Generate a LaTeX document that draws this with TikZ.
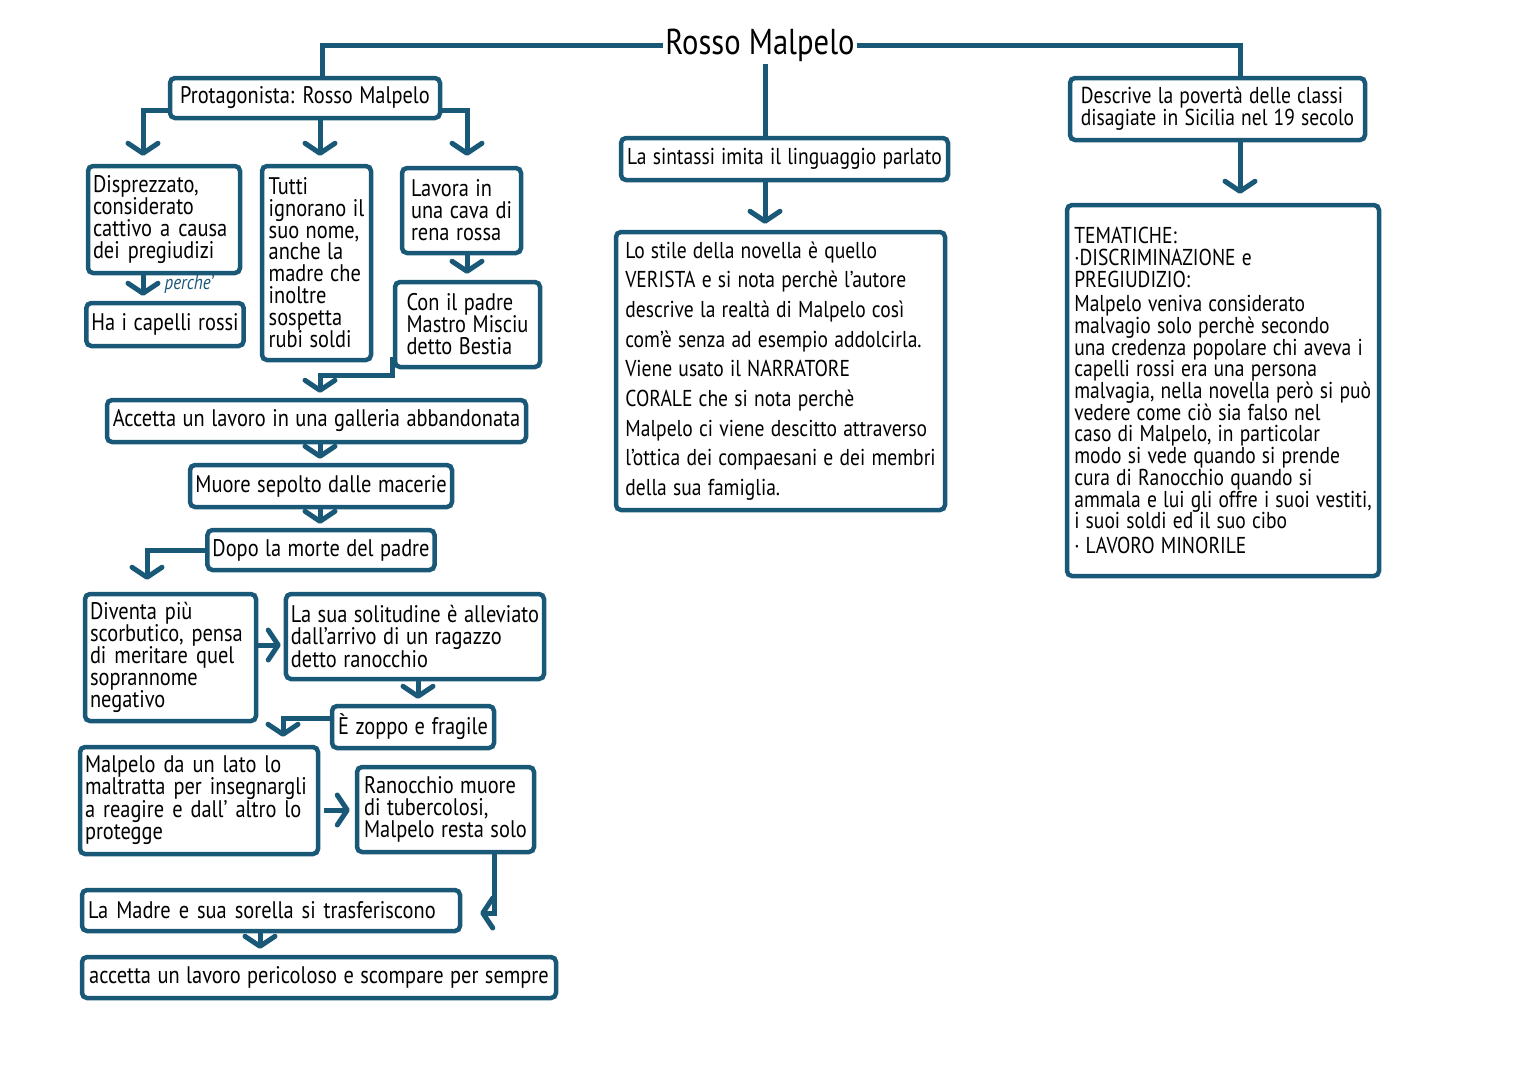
\documentclass[tikz,border=0pt]{standalone}
\usepackage{fontspec}
\setmainfont[FakeStretch=0.85]{PT Sans}
\usetikzlibrary{arrows.meta,calc}
\definecolor{mb}{RGB}{26,88,120}
\newcommand\bxfont[2]{\fontsize{#1}{#2}\selectfont\spaceskip=0.27em plus 1pt minus 1pt\relax}
\begin{document}
\begin{tikzpicture}[x=1pt,y=-1pt,
  box/.style={draw=mb, line width=4.5pt, rounded corners=5pt, fill=white, inner xsep=5pt, inner ysep=1pt, align=left, text=black},
  conn/.style={draw=mb, line width=5pt},
  arr/.style={draw=mb, line width=5pt, -{Straight Barb[length=10pt,width=30pt,round]}},
  ft/.style={font=\bxfont{24}{#1}},
  ft/.default=22,
  fs/.style={font=\bxfont{23}{#1}},
  fs/.default=22
]
\fill[white] (0,0) rectangle (1527,1080);
\useasboundingbox (0,0) rectangle (1527,1080);

% column coordinates
\coordinate (xl) at (322,0);
\coordinate (xr) at (1240,0);
\coordinate (xm) at (765,0);
\coordinate (xa) at (143,0);
\coordinate (xc) at (320,0);
\coordinate (xd) at (467,0);
\coordinate (xe) at (147,0);
\coordinate (xf) at (418,0);
\coordinate (xg) at (283,0);
\coordinate (xh) at (494,0);
\coordinate (xi) at (260,0);
\coordinate (ya) at (0,645);
\coordinate (yb) at (0,718);
\coordinate (yc) at (0,810);
\coordinate (yd) at (0,913);

\node[font=\fontsize{36}{36}\selectfont, inner sep=2pt] (title) at (760,45) {Rosso Malpelo};

\node[box, ft, minimum width=270pt, minimum height=40pt] (prot) at (305,98) {Protagonista: Rosso Malpelo};
\node[box, ft, minimum width=152pt, minimum height=107pt, text width=142pt] (disp) at (164,219.5) {Disprezzato,\\considerato\\cattivo a causa\\dei pregiudizi};
\node[box, ft, minimum width=154pt, minimum height=43pt] (capelli) at (165,324.5) {Ha i capelli rossi};
\node[box, ft=21.7, minimum width=109pt, minimum height=194pt] (tutti) at (316.5,263) {Tutti\\ignorano il\\suo nome,\\anche la\\madre che\\inoltre\\sospetta\\rubi soldi};
\node[box, ft, minimum width=119pt, minimum height=85pt] (lavora) at (461.5,210.5) {Lavora in\\una cava di\\rena rossa};
\node[box, ft, minimum width=145pt, minimum height=85pt] (padre) at (467.5,324.5) {Con il padre\\Mastro Misciu\\detto Bestia};
\node[box, ft, minimum width=419pt, minimum height=42pt] (accetta) at (316.5,421) {Accetta un lavoro in una galleria abbandonata};
\node[box, ft, minimum width=262pt, minimum height=42pt] (muore) at (321,486) {Muore sepolto dalle macerie};
\node[box, ft, minimum width=222pt, minimum height=40pt] (dopo) at (321,550) {Dopo la morte del padre};
\node[box, ft, minimum width=171pt, minimum height=127pt, text width=161pt] (diventa) at (170.5,657.5) {Diventa più\\scorbutico, pensa\\di meritare quel\\soprannome\\negativo};
\node[box, ft, minimum width=256pt, minimum height=85pt] (solit) at (415,636.5) {La sua solitudine è alleviato\\dall’arrivo di un ragazzo\\detto ranocchio};
\node[box, ft, minimum width=162pt, minimum height=42pt] (zoppo) at (413,727) {È zoppo e fragile};
\node[box, ft, minimum width=238pt, minimum height=107pt, text width=228pt] (maltratta) at (199,800.5) {Malpelo da un lato lo\\maltratta per insegnargli\\a reagire e dall’ altro lo\\protegge};
\node[box, ft, minimum width=177pt, minimum height=85pt] (ranmuore) at (445.5,809.5) {Ranocchio muore\\di tubercolosi,\\Malpelo resta solo};
\node[box, ft, minimum width=378pt, minimum height=41pt, text width=366pt] (madre) at (271,910.5) {La Madre e sua sorella si trasferiscono};
\node[box, ft, minimum width=474pt, minimum height=41pt] (pericoloso) at (319,977.5) {accetta un lavoro pericoloso e scompare per sempre};

\node[box, fs, inner xsep=3pt, minimum width=327pt, minimum height=42pt] (sintassi) at (784.5,159) {La sintassi imita il linguaggio parlato};
\node[box, fs=29.7, inner xsep=3pt, minimum width=329pt, minimum height=278pt] (stile) at (780.5,371) {Lo stile della novella è quello\\VERISTA e si nota perchè l'autore\\descrive la realtà di Malpelo così\\com'è senza ad esempio addolcirla.\\Viene usato il NARRATORE\\CORALE che si nota perchè\\Malpelo ci viene descitto attraverso\\l'ottica dei compaesani e dei membri\\della sua famiglia.};

\node[box, fs, inner xsep=3pt, minimum width=295pt, minimum height=62pt] (descrive) at (1217.5,109) {Descrive la povertà delle classi\\disagiate in Sicilia nel 19 secolo};
\node[box, fs=21.7, inner xsep=3pt, minimum width=312pt, minimum height=371pt] (tematiche) at (1223,390.5) {TEMATICHE:\\·DISCRIMINAZIONE e\\PREGIUDIZIO:\\[3pt]Malpelo veniva considerato\\malvagio solo perchè secondo\\una credenza popolare chi aveva i\\capelli rossi era una persona\\malvagia, nella novella però si può\\vedere come ciò sia falso nel\\caso di Malpelo, in particolar\\modo si vede quando si prende\\cura di Ranocchio quando si\\ammala e lui gli offre i suoi vestiti,\\i suoi soldi ed il suo cibo\\[3pt]· LAVORO MINORILE};

\node[font=\fontsize{20}{20}\selectfont\itshape, text=mb, inner sep=1pt] (perche) at (189,284) {perche’};

% connectors
\draw[conn] (title.west) -| (prot.north -| xl);
\draw[conn] (title.east) -| (descrive.north -| xr);
\draw[conn] (title.south -| xm) -- (sintassi.north -| xm);

\draw[arr, shorten >=8pt] ([yshift=10pt]prot.south west) -| (disp.north -| xa);
\draw[arr, shorten >=8pt] (prot.south -| xc) -- (tutti.north -| xc);
\draw[arr, shorten >=10pt] ([yshift=10pt]prot.south east) -| (lavora.north -| xd);
\draw[arr, shorten >=5pt] (disp.south -| xa) -- (capelli.north -| xa);
\draw[arr, shorten >=6pt] (lavora.south -| xd) -- (padre.north -| xd);
\draw[arr, shorten >=5pt] ([yshift=12pt]padre.south west) -- ([yshift=-6pt]padre.south west) -| (accetta.north -| xc);
\draw[arr, shorten >=4pt] (accetta.south -| xc) -- (muore.north -| xc);
\draw[arr, shorten >=4pt] (muore.south -| xc) -- (dopo.north -| xc);
\draw[arr, shorten >=12pt] (dopo.west) -| (diventa.north -| xe);
\draw[arr, shorten >=3pt] (diventa.east |- ya) -- (solit.west |- ya);
\draw[arr, shorten >=5pt] (solit.south -| xf) -- (zoppo.north -| xf);
\draw[arr, shorten >=8pt] (zoppo.west |- yb) -| (maltratta.north -| xg);
\draw[arr, shorten >=5pt, shorten <=4pt] (maltratta.east |- yc) -- (ranmuore.west |- yc);
\draw[arr, shorten >=18pt] (ranmuore.south -| xh) |- (madre.east |- yd);
\draw[arr, shorten >=6pt] (madre.south -| xi) -- (pericoloso.north -| xi);
\draw[arr, shorten >=6pt] (sintassi.south -| xm) -- (stile.north -| xm);
\draw[arr, shorten >=9pt] (descrive.south -| xr) -- (tematiche.north -| xr);
\end{tikzpicture}
\end{document}
